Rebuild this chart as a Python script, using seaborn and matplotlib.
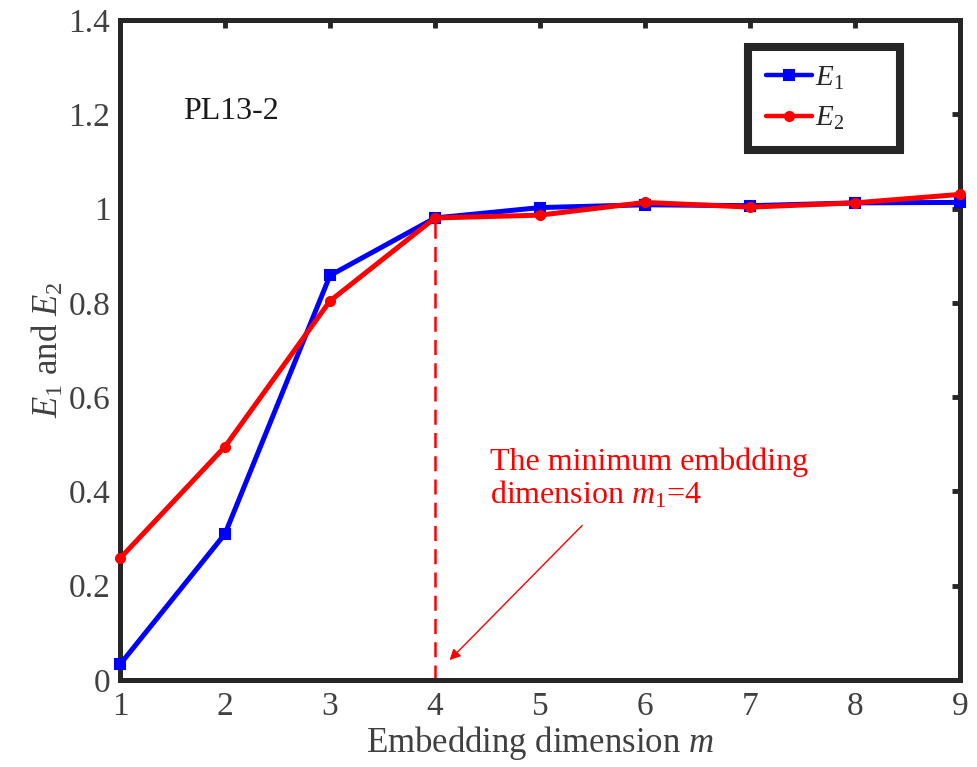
import matplotlib
matplotlib.use("Agg")
import matplotlib.pyplot as plt
import seaborn as sns
import pandas as pd

m_values = [1, 2, 3, 4, 5, 6, 7, 8, 9]
E1 = [0.033, 0.31, 0.858, 0.98, 1.002, 1.008, 1.006, 1.012, 1.013]
E2 = [0.258, 0.495, 0.804, 0.98, 0.986, 1.013, 1.003, 1.012, 1.030]
y_ticks = [0, 0.2, 0.4, 0.6, 0.8, 1.0, 1.2, 1.4]
y_tick_labels = ["0", "0.2", "0.4", "0.6", "0.8", "1", "1.2", "1.4"]
min_dim = 4

sns.set_style("white")
plt.rcParams["font.family"] = ["Liberation Serif", "DejaVu Serif"]
plt.rcParams["mathtext.fontset"] = "custom"
plt.rcParams["mathtext.rm"] = "Liberation Serif"
plt.rcParams["mathtext.it"] = "Liberation Serif:italic"

df = pd.DataFrame({
    "m": m_values * 2,
    "E": E1 + E2,
    "series": ["$E_1$"] * len(m_values) + ["$E_2$"] * len(m_values),
})

fig = plt.figure(figsize=(9.78, 7.67), dpi=100)
ax = fig.add_axes([0.1227, 0.1134, 0.8589, 0.8606])

sns.lineplot(data=df, x="m", y="E", hue="series", style="series",
             palette={"$E_1$": "#0000FF", "$E_2$": "#FF0000"},
             markers={"$E_1$": "s", "$E_2$": "o"}, dashes=False,
             linewidth=3.6, markersize=6.5, markeredgewidth=1.5,
             ax=ax, legend=True)
for ln in ax.lines:
    ln.set_markeredgecolor(ln.get_color())
    ln.set_clip_on(False)
    ln.set_zorder(3)

ax.plot([min_dim, min_dim], [0, E1[min_dim - 1]], color="#FF0000",
        linestyle=(0, (6, 3.3)), linewidth=1.8, zorder=1)

ax.set_xlim(1, 9)
ax.set_ylim(0, 1.4)
ax.set_xticks(m_values)
ax.set_yticks(y_ticks)
ax.set_yticklabels(y_tick_labels)
ax.tick_params(axis="both", which="both", direction="in", length=6, width=3.5,
               top=True, right=True, labelsize=24, labelcolor="#404040",
               color="#262626")
ax.tick_params(axis="x", pad=8)
ax.tick_params(axis="y", pad=7)
for s in ax.spines.values():
    s.set_linewidth(3.6)
    s.set_color("#262626")

ax.set_xlabel("Embedding dimension $\\it{m}$", fontsize=25, color="#404040", labelpad=2)
ax.set_ylabel("$E_1$ and $E_2$", fontsize=25, color="#404040", labelpad=2)

ax.text(2.06, 1.206, "PL13-2", fontsize=23, color="#1a1a1a", ha="center", va="center")

ax.annotate("", xy=(4.12, 0.038), xytext=(5.42, 0.332),
            arrowprops=dict(arrowstyle="-|>", color="#FF0000", lw=1.0,
                            mutation_scale=16))
ax.text(4.524, 0.494, "The minimum embdding\ndimension $m_1$=4", fontsize=23,
        color="#FF0000", ha="left", va="top", linespacing=1.1)

leg = ax.legend(loc="upper left", bbox_to_anchor=(0.748, 0.799, 0.181, 0.16),
                mode="expand", fontsize=21, frameon=True, fancybox=False,
                framealpha=1.0, handlelength=1.6, borderpad=0.6,
                labelspacing=0.45, handletextpad=0.1, borderaxespad=0)
leg.get_frame().set_edgecolor("#262626")
leg.get_frame().set_linewidth(5.8)
for h in leg.legend_handles:
    h.set_linewidth(3.2)

fig.savefig("out.png", dpi=100)
